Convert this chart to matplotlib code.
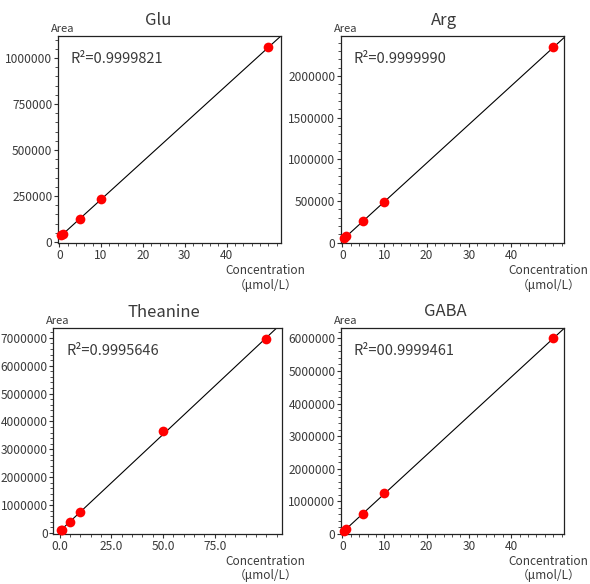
import numpy as np
import matplotlib
matplotlib.use("Agg")
import matplotlib.pyplot as plt
from matplotlib.ticker import FixedLocator, AutoMinorLocator, FuncFormatter

plt.rcParams['font.family'] = ['Noto Sans CJK JP', 'DejaVu Sans']

# ---- data ----
titles = ["Glu", "Arg", "Theanine", "GABA"]
r2_texts = ["R²=0.9999821", "R²=0.9999990", "R²=0.9995646", "R²=00.9999461"]

glu_conc = [0.5, 1, 5, 10, 50]
glu_area = [36000, 44000, 127000, 236000, 1058000]

arg_conc = [0.5, 1, 5, 10, 50]
arg_area = [55000, 75000, 262000, 490000, 2343000]

thea_conc = [0.5, 1, 5, 10, 50, 100]
thea_area = [90000, 110000, 380000, 760000, 3650000, 6950000]

gaba_conc = [0.5, 1, 5, 10, 50]
gaba_area = [100000, 150000, 620000, 1260000, 6000000]

glu_xticks = [0, 10, 20, 30, 40]
glu_yticks = [0, 250000, 500000, 750000, 1000000]
arg_xticks = [0, 10, 20, 30, 40]
arg_yticks = [0, 500000, 1000000, 1500000, 2000000]
thea_xticks = [0, 25, 50, 75]
thea_yticks = [0, 1000000, 2000000, 3000000, 4000000, 5000000, 6000000, 7000000]
gaba_xticks = [0, 10, 20, 30, 40]
gaba_yticks = [0, 1000000, 2000000, 3000000, 4000000, 5000000, 6000000]

xlims = [(-0.3, 53), (-0.3, 52.6), (-3.1, 107.4), (-0.3, 52.6)]
ylims = [(-5000, 1.12e6), (-5000, 2.48e6), (-36000, 7.34e6), (-5000, 6.33e6)]

axes_rects = [
    (58/590, 1-243/584, 223/590, 207/584),
    (341/590, 1-243/584, 223.3/590, 207/584),
    (53.3/590, 1-534/584, 228.4/590, 205.7/584),
    (341/590, 1-534/584, 223.3/590, 206.3/584),
]
title_x = [0.448, 0.461, 0.484, 0.469]
x_fmt = ['%d', '%d', '%.1f', '%d']

TXT = '#3a3a3a'

fig = plt.figure(figsize=(5.9, 5.84), dpi=100)

datasets = [(glu_conc, glu_area, glu_xticks, glu_yticks),
            (arg_conc, arg_area, arg_xticks, arg_yticks),
            (thea_conc, thea_area, thea_xticks, thea_yticks),
            (gaba_conc, gaba_area, gaba_xticks, gaba_yticks)]

for i, (xc, ya, xt, yt) in enumerate(datasets):
    ax = fig.add_axes(axes_rects[i])
    xc = np.array(xc, float)
    ya = np.array(ya, float)
    slope, inter = np.polyfit(xc, ya, 1)
    xl = np.array([0, xlims[i][1] * 1.05])
    ax.plot(xl, slope * xl + inter, color='black', lw=0.8, zorder=2)
    ax.plot(xc, ya, 'o', color='#ff0000', ms=7, mec='none', zorder=3, clip_on=False)
    ax.set_xlim(*xlims[i])
    ax.set_ylim(*ylims[i])
    ax.xaxis.set_major_locator(FixedLocator(xt))
    ax.yaxis.set_major_locator(FixedLocator(yt))
    ax.xaxis.set_minor_locator(AutoMinorLocator(5))
    ax.yaxis.set_minor_locator(AutoMinorLocator(5))
    fmt = x_fmt[i]
    ax.xaxis.set_major_formatter(FuncFormatter(lambda v, p, f=fmt: f % v))
    ax.yaxis.set_major_formatter(FuncFormatter(lambda v, p: '%d' % round(v)))
    ax.tick_params(which='major', direction='out', length=3, width=0.8,
                   labelsize=8.6, labelcolor=TXT, color='#333333', pad=1)
    ax.tick_params(which='minor', direction='out', length=2.2, width=0.6, color='#333333')
    ax.tick_params(top=False, right=False, which='both')
    for s in ax.spines.values():
        s.set_linewidth(0.9)
        s.set_color('#222222')
    ax.text(title_x[i], 1.055, titles[i], transform=ax.transAxes, ha='center',
            va='baseline', fontsize=12, color=TXT)
    ax.text(-0.03, 1.02, "Area", transform=ax.transAxes, ha='left',
            va='baseline', fontsize=8, color=TXT)
    ax.text(0.057, 0.87, r2_texts[i], transform=ax.transAxes, ha='left',
            va='baseline', fontsize=10.5, color=TXT)
    ax.text(0.93, -0.15, "Concentration", transform=ax.transAxes, ha='center',
            va='baseline', fontsize=8.5, color=TXT)
    ax.text(0.93, -0.22, "（μmol/L）", transform=ax.transAxes, ha='center',
            va='baseline', fontsize=8.5, color=TXT)

fig.savefig("out.png", dpi=100)
